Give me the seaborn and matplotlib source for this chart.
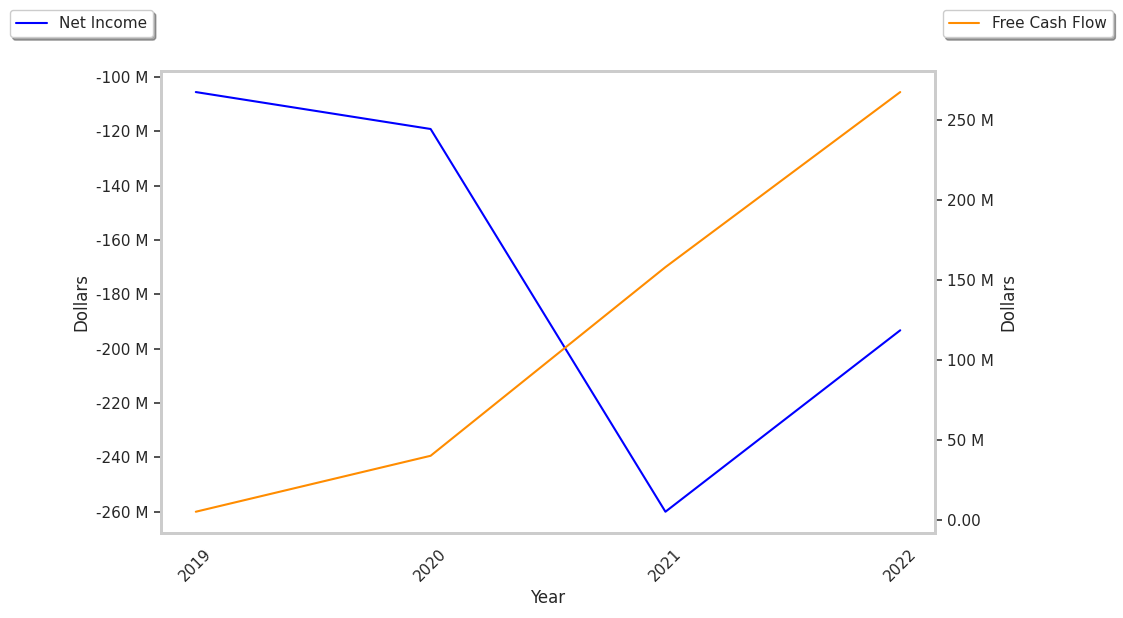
import matplotlib
matplotlib.use("Agg")
import matplotlib.pyplot as plt
import matplotlib.ticker as mticker
import seaborn as sns
import pandas as pd

years = ["2019", "2020", "2021", "2022"]
net_income = [-105.5e6, -119.1e6, -260.0e6, -193.2e6]
free_cash_flow = [5.0e6, 40.0e6, 158.0e6, 267.5e6]

df = pd.DataFrame({"Year": years, "Net Income": net_income, "Free Cash Flow": free_cash_flow})


def millions(x, pos):
    if x == 0:
        return "0.00"
    return f"{x / 1e6:.0f} M"


sns.set_theme(style="whitegrid")

fig, ax = plt.subplots(figsize=(11.23, 6.18), dpi=100)
ax2 = ax.twinx()

sns.lineplot(data=df, x="Year", y="Net Income", ax=ax, color="blue", label="Net Income", legend=False)
sns.lineplot(data=df, x="Year", y="Free Cash Flow", ax=ax2, color="darkorange", label="Free Cash Flow", legend=False)

for a in (ax, ax2):
    a.grid(False)
    a.yaxis.set_major_formatter(mticker.FuncFormatter(millions))
    a.set_ylabel("Dollars")
    a.tick_params(axis="y", length=5, width=1.2, color="#333333")
    for s in a.spines.values():
        s.set_color("#cccccc")
        s.set_linewidth(2)

ax.set_xlabel("Year")
ax.tick_params(axis="x", rotation=45)

fig.legend(loc="upper left", bbox_to_anchor=(0.002, 0.996), shadow=True, handles=ax.get_lines()[:1], labels=["Net Income"])
fig.legend(loc="upper right", bbox_to_anchor=(0.9976, 0.996), shadow=True, handles=ax2.get_lines()[:1], labels=["Free Cash Flow"])

fig.subplots_adjust(left=0.143, right=0.833, top=0.885, bottom=0.138)
fig.savefig("out.png", dpi=100)
